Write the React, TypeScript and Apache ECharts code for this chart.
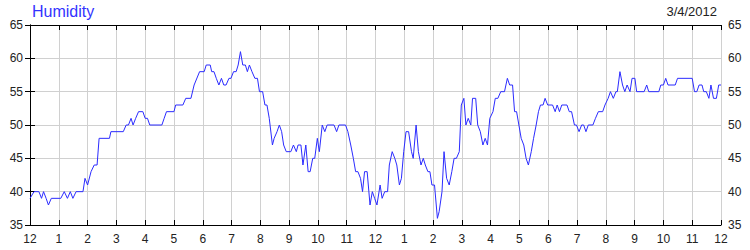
import React, { useEffect, useRef } from "react";
import * as echarts from "echarts";

const titleText = "Humidity";
const dateText = "3/4/2012";
const yTicks = [35, 40, 45, 50, 55, 60, 65];

const hours = [
  0, 0.14, 0.31, 0.4, 0.47, 0.56, 0.64, 0.74, 1.07, 1.19, 1.3, 1.4, 1.49, 1.6, 1.84, 1.91, 2.0, 2.12, 2.23, 2.33, 2.4, 2.76, 2.81, 3.24, 3.34, 3.42, 3.51, 3.58, 3.67, 3.77, 3.92, 4.0,
  4.08, 4.16, 4.58, 4.66, 4.74, 5.0, 5.06, 5.31, 5.41, 5.59, 5.7, 5.89, 6.05, 6.12, 6.26, 6.31, 6.39, 6.47, 6.56, 6.65, 6.73, 6.81, 6.91, 6.98, 7.07, 7.16, 7.23, 7.31, 7.39, 7.48, 7.55, 7.62, 7.71, 7.81, 7.9, 7.97,
  8.08, 8.16, 8.23, 8.31, 8.42, 8.48, 8.58, 8.66, 8.74, 8.81, 8.9, 9.06, 9.15, 9.25, 9.31, 9.41, 9.48, 9.58, 9.66, 9.73, 9.82, 9.89, 9.98, 10.05, 10.15, 10.24, 10.32, 10.56, 10.65, 10.73, 10.96, 11.04, 11.14, 11.23, 11.31, 11.39, 11.48, 11.55, 11.62, 11.71, 11.81, 11.89, 11.97, 12.05,
  12.16, 12.23, 12.32, 12.42, 12.48, 12.58, 12.67, 12.74, 12.83, 12.9, 12.98, 13.06, 13.15, 13.25, 13.31, 13.41, 13.49, 13.58, 13.66, 13.73, 13.82, 13.89, 13.96, 14.05, 14.15, 14.21, 14.31, 14.38, 14.47, 14.56, 14.65, 14.73, 14.81, 14.91, 14.98, 15.07, 15.14, 15.22, 15.31, 15.37, 15.48, 15.55, 15.64, 15.73, 15.81, 15.89, 15.97,
  16.08, 16.16, 16.25, 16.35, 16.48, 16.58, 16.66, 16.76, 16.83, 16.9, 16.98, 17.06, 17.15, 17.23, 17.31, 17.41, 17.49, 17.58, 17.66, 17.73, 17.82, 17.89, 17.98, 18.15, 18.24, 18.31, 18.39, 18.47, 18.65, 18.73, 18.81, 18.91, 18.98, 19.07, 19.16, 19.23, 19.31, 19.39, 19.55, 19.64, 19.74, 19.89, 19.97,
  20.08, 20.16, 20.26, 20.35, 20.4, 20.49, 20.58, 20.66, 20.74, 20.84, 20.91, 21.01, 21.07, 21.33, 21.42, 21.49, 21.84, 21.91, 22.0, 22.08, 22.16, 22.41, 22.49, 23.0, 23.08, 23.16, 23.24, 23.34, 23.4, 23.49, 23.58, 23.65, 23.74, 23.84, 23.92, 24.0,
];

const humidity = [
  39, 40, 40, 39, 40, 39, 38, 39, 39, 40, 39, 40, 39, 40, 40, 42, 41, 43, 44, 44, 48, 48, 49, 49, 50, 50, 51, 50, 51, 52, 52, 51,
  51, 50, 50, 51, 52, 52, 53, 53, 54, 54, 56, 58, 58, 59, 59, 58, 58, 57, 56, 57, 56, 56, 57, 57, 58, 58, 59, 61, 59, 59, 58, 59, 58, 57, 57, 55,
  55, 53, 53, 51, 47, 48, 49, 50, 49, 47, 46, 46, 47, 46, 47, 47, 44, 47, 43, 43, 45, 45, 48, 46, 50, 49, 50, 50, 49, 50, 50, 49, 47, 45, 43, 43, 42, 40, 43, 43, 38, 40, 39, 38,
  41, 39, 40, 40, 44, 46, 45, 44, 41, 42, 46, 49, 49, 46, 45, 50, 46, 44, 45, 44, 43, 43, 41, 41, 36, 37, 40, 46, 42, 41, 43, 45, 45, 46, 53, 54, 50, 51, 50, 54, 54, 50, 49, 47, 48, 47, 51,
  52, 54, 54, 55, 55, 57, 56, 56, 52, 52, 50, 48, 47, 45, 44, 46, 48, 50, 52, 53, 53, 54, 53, 53, 52, 53, 52, 53, 53, 52, 52, 50, 50, 49, 50, 50, 49, 50, 50, 51, 52, 52, 53,
  54, 55, 54, 55, 55, 58, 56, 55, 56, 55, 57, 57, 55, 55, 56, 55, 55, 56, 56, 57, 56, 56, 57, 57, 55, 55, 56, 56, 55, 55, 54, 56, 54, 54, 56, 56,
];

const FONT = "'Liberation Sans', Arial, sans-serif";

export default function App() {
  const ref = useRef<HTMLDivElement>(null);
  useEffect(() => {
    if (!ref.current) return;
    const chart = echarts.init(ref.current, null, { renderer: "svg" });
    const data = hours.map((h, i) => [h, humidity[i]]);
    const hourLabel = (v: number) => {
      const r = Math.round(v) % 12;
      return String(r === 0 ? 12 : r);
    };
    const yMin = yTicks[0];
    const yMax = yTicks[yTicks.length - 1];
    const axisLine = { show: true, lineStyle: { color: "#000", width: 1 } };
    const tick = { show: true, inside: true, length: 5, lineStyle: { color: "#000" } };
    chart.setOption({
      animation: false,
      textStyle: { fontFamily: FONT },
      title: [
        {
          text: titleText,
          left: 32,
          top: 3,
          padding: 0,
          textStyle: { fontFamily: FONT, fontSize: 16, fontWeight: "normal", color: "#3333ff" },
        },
        {
          text: dateText,
          right: 33,
          top: 5,
          padding: 0,
          textStyle: { fontFamily: FONT, fontSize: 13, fontWeight: "normal", color: "#222" },
        },
      ],
      grid: { left: 30, right: 29, top: 25, bottom: 25, containLabel: false },
      xAxis: [
        {
          type: "value",
          position: "bottom",
          min: 0,
          max: 24,
          interval: 1,
          axisLine,
          axisTick: tick,
          axisLabel: {
            show: true,
            margin: 8,
            fontSize: 12,
            color: "#222",
            fontFamily: FONT,
            formatter: hourLabel,
          },
          splitLine: { show: true, lineStyle: { color: "#d0d0d0", width: 1 } },
        },
        {
          type: "value",
          position: "top",
          min: 0,
          max: 24,
          interval: 1,
          axisLine,
          axisTick: tick,
          axisLabel: { show: false },
          splitLine: { show: false },
        },
      ],
      yAxis: [
        {
          type: "value",
          position: "left",
          min: yMin,
          max: yMax,
          interval: 5,
          axisLine,
          axisTick: tick,
          axisLabel: { margin: 7, fontSize: 12, color: "#222", fontFamily: FONT },
          splitLine: { show: true, lineStyle: { color: "#d0d0d0", width: 1 } },
        },
        {
          type: "value",
          position: "right",
          min: yMin,
          max: yMax,
          interval: 5,
          axisLine,
          axisTick: tick,
          axisLabel: { margin: 7, fontSize: 12, color: "#222", fontFamily: FONT },
          splitLine: { show: false },
        },
      ],
      series: [
        {
          type: "line",
          xAxisIndex: 0,
          yAxisIndex: 0,
          data,
          showSymbol: false,
          symbol: "none",
          lineStyle: { color: "#2b2bff", width: 1 },
          z: 5,
        },
      ],
    });
    return () => chart.dispose();
  }, []);
  return (
    <div
      ref={ref}
      style={{ position: "fixed", left: 0, top: 0, width: 750, height: 250, background: "#fff" }}
    />
  );
}
